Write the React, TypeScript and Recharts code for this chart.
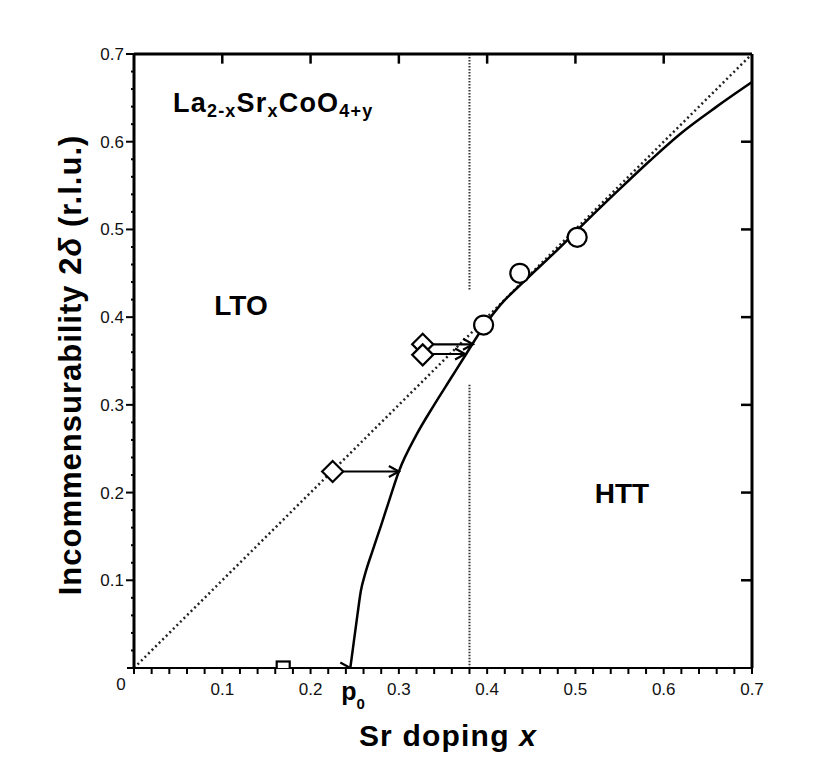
import { ComposedChart, Line, Scatter, XAxis, YAxis } from "recharts";

// axis ticks (data units)
const X_TICKS = [
  0, 0.02, 0.04, 0.06, 0.08, 0.1, 0.12, 0.14, 0.16, 0.18, 0.2, 0.22, 0.24, 0.26, 0.28, 0.3,
  0.32, 0.34, 0.36, 0.38, 0.4, 0.42, 0.44, 0.46, 0.48, 0.5, 0.52, 0.54, 0.56, 0.58, 0.6, 0.62,
  0.64, 0.66, 0.68, 0.7,
];
const Y_TICKS = [
  0.02, 0.04, 0.06, 0.08, 0.1, 0.12, 0.14, 0.16, 0.18, 0.2, 0.22, 0.24, 0.26, 0.28, 0.3, 0.32,
  0.34, 0.36, 0.38, 0.4, 0.42, 0.44, 0.46, 0.48, 0.5, 0.52, 0.54, 0.56, 0.58, 0.6, 0.62, 0.64,
  0.66, 0.68, 0.7,
];
const MAJOR_TICKS = [0.1, 0.2, 0.3, 0.4, 0.5, 0.6, 0.7];
const FRAME_TICKS = [0.1, 0.2, 0.3, 0.4, 0.5, 0.6];
const P0_TICK = [0.245];
const Y_MAX = 0.7;
const TOP_TICK_LEN = 0.011; // inward tick length on the top frame, in y units

// measured points
const circles = [
  { x: 0.396, y: 0.391 },
  { x: 0.437, y: 0.45 },
  { x: 0.502, y: 0.491 },
];
const diamonds = [
  { x: 0.225, y: 0.224 },
  { x: 0.327, y: 0.369 },
  { x: 0.327, y: 0.357 },
];
const squares = [{ x: 0.169, y: 0 }];

// arrows: start -> tip
const arrows = [
  [{ x: 0.169, y: 0 }, { x: 0.245, y: 0 }],
  [{ x: 0.225, y: 0.224 }, { x: 0.3, y: 0.224 }],
  [{ x: 0.327, y: 0.369 }, { x: 0.384, y: 0.369 }],
  [{ x: 0.327, y: 0.358 }, { x: 0.375, y: 0.358 }],
];

// solid line through the data (eye guide)
const curve = [
  { x: 0.245, y: 0 },
  { x: 0.249, y: 0.03 },
  { x: 0.253, y: 0.06 },
  { x: 0.257, y: 0.088 },
  { x: 0.262, y: 0.108 },
  { x: 0.27, y: 0.133 },
  { x: 0.28, y: 0.163 },
  { x: 0.29, y: 0.194 },
  { x: 0.3, y: 0.224 },
  { x: 0.32, y: 0.266 },
  { x: 0.34, y: 0.3 },
  { x: 0.36, y: 0.332 },
  { x: 0.375, y: 0.356 },
  { x: 0.396, y: 0.389 },
  { x: 0.415, y: 0.414 },
  { x: 0.441, y: 0.44 },
  { x: 0.482, y: 0.479 },
  { x: 0.513, y: 0.51 },
  { x: 0.547, y: 0.543 },
  { x: 0.584, y: 0.578 },
  { x: 0.62, y: 0.61 },
  { x: 0.66, y: 0.64 },
  { x: 0.7, y: 0.668 },
];
const diagonal = [
  { x: 0, y: 0 },
  { x: 0.7, y: 0.7 },
];
const PHASE_X = 0.38;
const phaseUpper = [
  { x: PHASE_X, y: 0.7 },
  { x: PHASE_X, y: 0.431 },
];
const phaseLower = [
  { x: PHASE_X, y: 0.323 },
  { x: PHASE_X, y: 0 },
];

// short vertical segments hanging from the top frame
const topTicks = FRAME_TICKS.map((t) => [
  { x: t, y: Y_MAX },
  { x: t, y: Y_MAX - TOP_TICK_LEN },
]);

const FONT = "'Liberation Sans', Arial, Helvetica, sans-serif";
const INK = "#000";
const TICK_INK = "#111";

const isMajor = (v: number) => MAJOR_TICKS.some((m) => Math.abs(m - v) < 1e-6);

function BottomLabel({ x, y, payload }: any) {
  const v = payload.value;
  if (v === 0) {
    return (
      <g>
        <line x1={x - 7} y1={y - 6} x2={x} y2={y - 6} stroke={INK} strokeWidth={2} />
        <text x={x - 13} y={y + 16} textAnchor="middle" fontFamily={FONT} fontSize={17} fill={TICK_INK}>
          0
        </text>
      </g>
    );
  }
  if (!isMajor(v)) return <g />;
  return (
    <text x={x} y={y + 21} textAnchor="middle" fontFamily={FONT} fontSize={17} fill={TICK_INK}>
      {String(v)}
    </text>
  );
}

function P0Label({ x, y }: any) {
  return (
    <text x={x - 9} y={y - 8} fontFamily={FONT} fontWeight="bold" fontSize={25} fill={INK}>
      p
      <tspan dy={9} fontSize={15}>
        0
      </tspan>
    </text>
  );
}

// x is the outer end of the short (minor) tick line
function LeftLabel({ x, y, payload }: any) {
  if (!isMajor(payload.value)) return <g />;
  return (
    <g>
      <line x1={x - 5} y1={y} x2={x} y2={y} stroke={INK} strokeWidth={2} />
      <text x={x - 7} y={y + 6} textAnchor="end" fontFamily={FONT} fontSize={17} fill={TICK_INK}>
        {String(payload.value)}
      </text>
    </g>
  );
}

function NoLabel() {
  return <g />;
}

function CircleMark({ cx, cy }: any) {
  return <circle cx={cx} cy={cy} r={9.5} fill="#fff" stroke={INK} strokeWidth={2.2} />;
}
function DiamondMark({ cx, cy }: any) {
  const r = 10.5;
  return (
    <path
      d={`M${cx},${cy - r} L${cx + r},${cy} L${cx},${cy + r} L${cx - r},${cy} Z`}
      fill="#fff"
      stroke={INK}
      strokeWidth={2.2}
    />
  );
}
function SquareMark({ cx, cy }: any) {
  return <rect x={cx - 6.5} y={cy - 6.5} width={13} height={13} fill="#fff" stroke={INK} strokeWidth={2.2} />;
}

function arrowDot(props: any) {
  const { cx, cy, index, key } = props;
  if (index !== 1) return <g key={key} />;
  return (
    <path
      key={key}
      d={`M${cx - 10},${cy - 5.5} L${cx},${cy} L${cx - 10},${cy + 5.5}`}
      fill="none"
      stroke={INK}
      strokeWidth={2.2}
    />
  );
}

const common = {
  dataKey: "y",
  type: "linear" as const,
  dot: false,
  activeDot: false,
  isAnimationActive: false,
};

export default function App() {
  return (
    <div style={{ position: "absolute", left: 0, top: 0, width: 830, height: 780, background: "#fff" }}>
      <ComposedChart width={830} height={780} margin={{ top: 44, right: 78, left: 74, bottom: 62 }}>
        {/* bottom axis: ticks every 0.02 with labels on the tenths */}
        <XAxis
          dataKey="x"
          type="number"
          domain={[0, 0.7]}
          ticks={X_TICKS}
          interval={0}
          allowDataOverflow
          height={40}
          tickSize={6}
          tickMargin={0}
          tickLine={{ stroke: INK, strokeWidth: 2 }}
          axisLine={{ stroke: INK, strokeWidth: 2 }}
          tick={<BottomLabel />}
        />
        {/* p0 label, sits just under the bottom axis */}
        <XAxis
          xAxisId="p0"
          dataKey="x"
          type="number"
          domain={[0, 0.7]}
          ticks={P0_TICK}
          interval={0}
          height={10}
          tickSize={0}
          tickMargin={0}
          tickLine={{ stroke: "none" }}
          axisLine={false}
          tick={<P0Label />}
        />
        {/* top frame line */}
        <XAxis
          xAxisId="top"
          orientation="top"
          dataKey="x"
          type="number"
          domain={[0, 0.7]}
          ticks={FRAME_TICKS}
          interval={0}
          height={10}
          tickSize={0}
          tickMargin={0}
          tickLine={false}
          axisLine={{ stroke: INK, strokeWidth: 3 }}
          tick={<NoLabel />}
        />
        {/* left axis: short ticks every 0.02, longer + labelled on tenths */}
        <YAxis
          type="number"
          domain={[0, 0.7]}
          ticks={Y_TICKS}
          interval={0}
          allowDataOverflow
          width={60}
          tickSize={3}
          tickMargin={0}
          tickLine={{ stroke: INK, strokeWidth: 2 }}
          axisLine={{ stroke: INK, strokeWidth: 3 }}
          tick={<LeftLabel />}
        />
        {/* right frame, inward ticks */}
        <YAxis
          yAxisId="right"
          orientation="right"
          mirror
          type="number"
          domain={[0, 0.7]}
          ticks={FRAME_TICKS}
          interval={0}
          width={10}
          tickSize={11}
          tickMargin={0}
          tickLine={{ stroke: INK, strokeWidth: 2.5 }}
          axisLine={{ stroke: INK, strokeWidth: 3 }}
          tick={<NoLabel />}
        />

        {/* invisible series so the frame axes are used */}
        <Line {...common} data={diagonal} xAxisId="top" yAxisId="right" stroke="none" />
        <Line {...common} data={diagonal} xAxisId="p0" stroke="none" />

        {/* inward ticks on the top frame */}
        {topTicks.map((seg, i) => (
          <Line key={`top-tick-${i}`} {...common} data={seg} stroke={INK} strokeWidth={2.5} />
        ))}

        <Line {...common} data={diagonal} stroke="#222" strokeWidth={2.5} strokeDasharray="2 3" />
        <Line {...common} data={phaseUpper} stroke="#333" strokeWidth={2} strokeDasharray="1.5 1.5" />
        <Line {...common} data={phaseLower} stroke="#333" strokeWidth={2} strokeDasharray="1.5 1.5" />
        <Line {...common} data={curve} type="monotone" stroke={INK} strokeWidth={2.5} />
        {arrows.map((a, i) => (
          <Line key={`arrow-${i}`} {...common} data={a} stroke={INK} strokeWidth={2.2} dot={arrowDot} />
        ))}
        <Scatter data={circles} dataKey="y" shape={<CircleMark />} isAnimationActive={false} />
        <Scatter data={diamonds} dataKey="y" shape={<DiamondMark />} isAnimationActive={false} />
        <Scatter data={squares} dataKey="y" shape={<SquareMark />} isAnimationActive={false} />
      </ComposedChart>

      <svg
        width={830}
        height={780}
        style={{ position: "absolute", left: 0, top: 0, pointerEvents: "none" }}
        fontFamily={FONT}
        fill={INK}
      >
        <text x={173} y={112} fontSize={27} fontWeight="bold" letterSpacing={1.2}>
          La
          <tspan fontSize={18} dy={5}>
            2-x
          </tspan>
          <tspan dy={-5}>Sr</tspan>
          <tspan fontSize={18} dy={5}>
            x
          </tspan>
          <tspan dy={-5}>CoO</tspan>
          <tspan fontSize={18} dy={5}>
            4+y
          </tspan>
        </text>
        <text x={241} y={315} fontSize={28} fontWeight="bold" textAnchor="middle">
          LTO
        </text>
        <text x={622} y={503} fontSize={28} fontWeight="bold" textAnchor="middle">
          HTT
        </text>
        <text x={448} y={746} fontSize={30} fontWeight="bold" textAnchor="middle" letterSpacing={1.2}>
          Sr doping <tspan fontStyle="italic">x</tspan>
        </text>
        <text
          transform="translate(81,365) rotate(-90)"
          fontSize={31}
          fontWeight="bold"
          textAnchor="middle"
          letterSpacing={1}
        >
          Incommensurability 2<tspan fontStyle="italic">δ</tspan> (r.l.u.)
        </text>
      </svg>
    </div>
  );
}
